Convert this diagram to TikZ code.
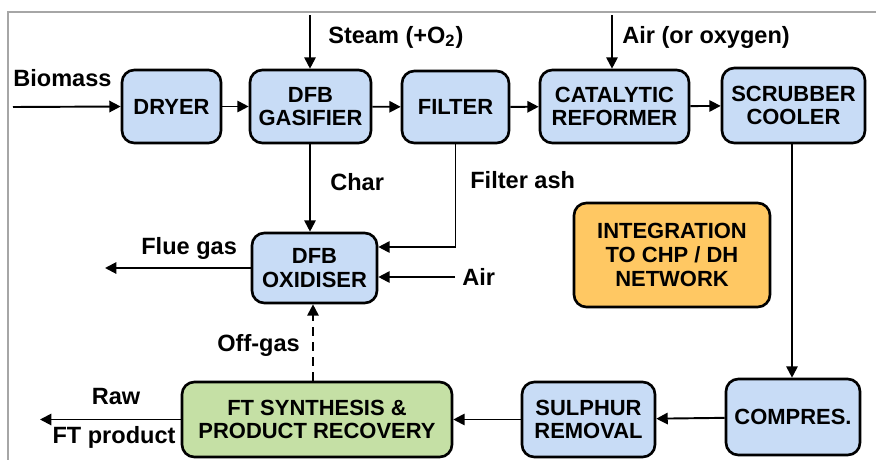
\documentclass[tikz,border=0pt]{standalone}
\usepackage{fontspec}
\setmainfont{Liberation Sans}
\usepackage{xcolor}
\usetikzlibrary{calc,arrows.meta}
\definecolor{unitblue}{HTML}{C8DCF6}
\definecolor{chporange}{HTML}{FFC863}
\definecolor{ftgreen}{HTML}{C5E0A5}
\definecolor{framegray}{HTML}{A6A6A6}

\begin{document}
\begin{tikzpicture}[x=0.02cm,y=-0.02cm,
  unit/.style={draw,line width=1.5pt,rounded corners=7pt,fill=unitblue,align=center,
    inner sep=0pt,font=\bfseries\fontsize{12.5}{13.5}\selectfont},
  flow/.style={line width=1.1pt,-{Triangle[length=6.5pt,width=6.5pt]}},
  lbl/.style={anchor=west,inner sep=0pt,font=\bfseries\fontsize{13.4}{15}\selectfont}]
\useasboundingbox (0,0) rectangle (876,460);
% frame (top and left edge only)
\draw[framegray,line width=1.2pt] (876,12) -- (8,12) -- (8,460);

% gasification line
\node[unit,minimum width=1.98cm,minimum height=1.46cm] (dryer) at (171.5,106.5) {DRYER};
\node[unit,minimum width=2.42cm,minimum height=1.46cm] (gasifier) at (310.5,106.5) {DFB\\GASIFIER};
\node[unit,minimum width=2.14cm,minimum height=1.44cm] (filter) at (455.5,107) {FILTER};
\node[unit,minimum width=2.98cm,minimum height=1.46cm] (reformer) at (614.5,106.5) {CATALYTIC\\REFORMER};
\node[unit,minimum width=2.86cm,minimum height=1.50cm] (scrubber) at (793.5,105.5) {SCRUBBER\\COOLER};
\node[unit,minimum width=2.50cm,minimum height=1.40cm] (oxidiser) at (314.5,268) {DFB\\OXIDISER};
\node[unit,fill=chporange,minimum width=3.92cm,minimum height=2.08cm] (chp) at (672,255) {INTEGRATION\\TO CHP / DH\\NETWORK};

% synthesis line
\node[unit,minimum width=2.68cm,minimum height=1.52cm] (compres) at (793,417) {COMPRES.};
\node[unit,minimum width=2.66cm,minimum height=1.50cm] (sulphur) at (588.5,419.5) {SULPHUR\\REMOVAL};
\node[unit,fill=ftgreen,minimum width=5.40cm,minimum height=1.50cm] (ft) at (317,419.5) {FT SYNTHESIS \&\\PRODUCT RECOVERY};

% free ends
\coordinate (biomass) at (13,107);
\coordinate (steam) at (310,15);
\coordinate (airtop) at (612,15);
\coordinate (flue) at (105,268);
\coordinate (air) at (455,277);
\coordinate (raw) at (40,419.5);

% main streams
\draw[flow] (biomass) -- (dryer.west);
\draw[flow] (dryer) -- (gasifier);
\draw[flow] (gasifier) -- (filter);
\draw[flow] (filter) -- (reformer);
\draw[flow] (reformer) -- (scrubber);
\draw[flow] (steam) -- (steam |- gasifier.north);
\draw[flow] (airtop) -- (airtop |- reformer.north);
\draw[flow] (gasifier.south -| steam) -- (steam |- oxidiser.north);
\draw[flow] (filter.south) |- ($(oxidiser.east)+(0,-21)$);
\draw[flow] (air) -- (air -| oxidiser.east);
\draw[flow] (oxidiser.west) -- (flue);
\draw[flow] (scrubber.south -| 792,0) -- (792,0 |- compres.north);
\draw[flow] (compres) -- (sulphur);
\draw[flow] (sulphur) -- (ft);
\draw[flow] (ft.west) -- (raw);
\draw[flow,dash pattern=on 5pt off 3.5pt] (ft.north -| 313,0) -- (313,0 |- oxidiser.south);

% stream labels
\node[lbl] (lbiomass) at (13,78) {Biomass};
\node[lbl] (lsteam) at (328,37) {Steam (+O\textsubscript{2})};
\node[lbl] (lairtop) at (622,37) {Air (or oxygen)};
\node[lbl] (lchar) at (330,182) {Char};
\node[lbl] (lash) at (470,180) {Filter ash};
\node[lbl] (lflue) at (141,248) {Flue gas};
\node[lbl] (lair) at (462,277) {Air};
\node[lbl] (loff) at (217,345) {Off-gas};
\node[lbl,anchor=center] (lraw) at (116,397) {Raw};
\node[lbl,anchor=center] (lprod) at (114,437) {FT product};
\end{tikzpicture}
\end{document}
